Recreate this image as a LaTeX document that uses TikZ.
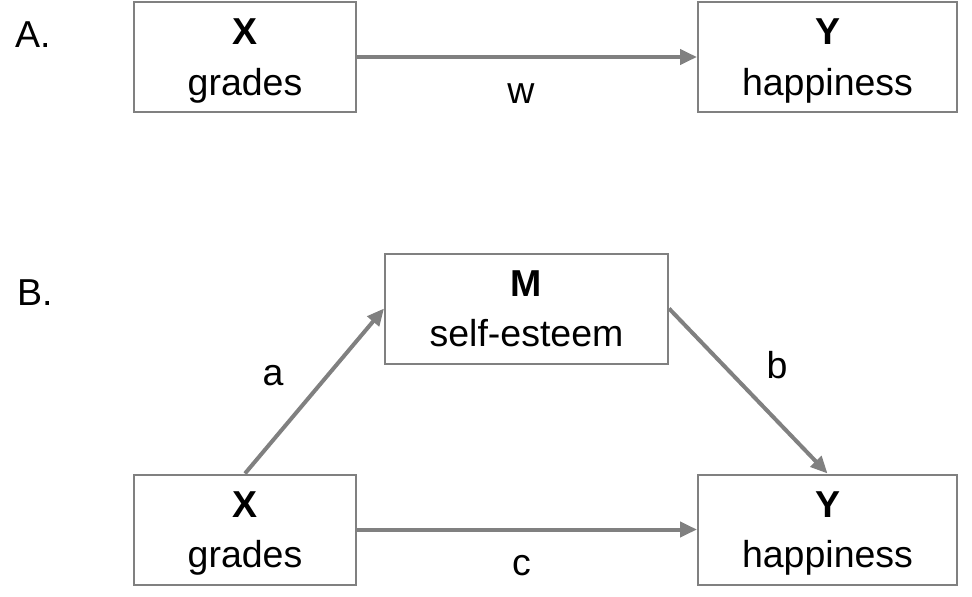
\documentclass[tikz,border=0pt]{standalone}
\usepackage{fontspec}
\setmainfont{Liberation Sans}
\usetikzlibrary{arrows.meta}
\definecolor{linegray}{HTML}{808080}

\begin{document}
\begin{tikzpicture}[x=1pt,y=-1pt,
   every node/.style={font=\fontsize{37.5}{50.5}\selectfont,inner sep=0pt},
   var/.style={draw=linegray,line width=2pt,align=center,minimum height=110pt,text depth=0pt},
   effect/.style={draw=linegray,line width=4pt,-{Triangle[length=17pt,width=15pt]}}]
\useasboundingbox (0,0) rectangle (972,597);
\node[anchor=base west] (A) at (15,47) {A.};
\node[var,minimum width=222pt] (XA) at (245,57) {\textbf{X}\\grades};
\node[var,minimum width=259pt] (YA) at (827.5,57) {\textbf{Y}\\happiness};
\draw[effect] (XA) -- (YA);
\node[anchor=base] (w) at (521,103) {w};
\begin{scope}
\node[anchor=base west] (B) at (17,305.7) {B.};
\node[var,minimum width=283pt] (M) at (526.5,308.5) {\textbf{M}\\self-esteem};
\node[var,minimum width=222pt] (XB) at (245,529.5) {\textbf{X}\\grades};
\node[var,minimum width=259pt] (YB) at (827.5,529.5) {\textbf{Y}\\happiness};
\draw[effect] (XB.north) -- (M.west);
\draw[effect] (M.east) -- (YB.north);
\draw[effect] (XB) -- (YB);
\node[anchor=base] (a) at (273,385.7) {a};
\node[anchor=base] (b) at (777,378) {b};
\node[anchor=base] (c) at (521.5,575) {c};
\end{scope}
\end{tikzpicture}
\end{document}
